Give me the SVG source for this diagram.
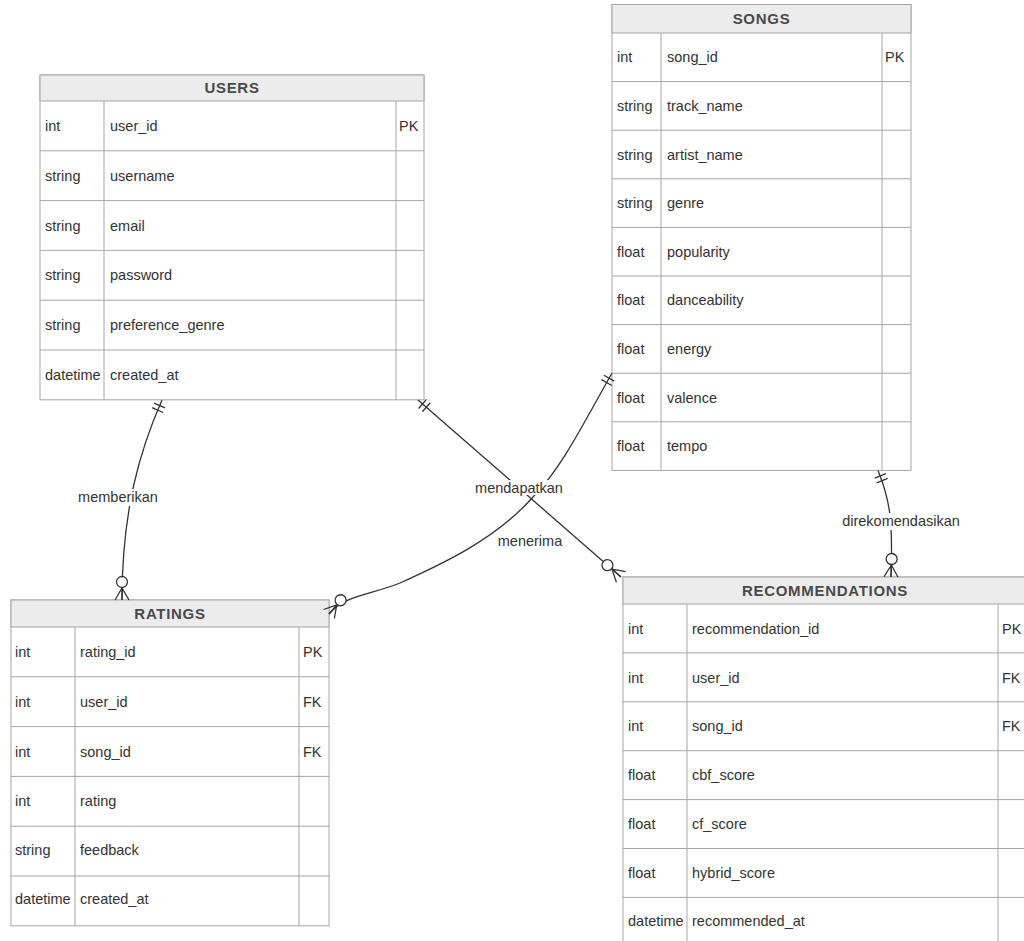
<svg xmlns="http://www.w3.org/2000/svg" width="1024" height="941" viewBox="0 0 1024 941">
<style>
.box{fill:#ffffff;stroke:#a6a6a6;stroke-width:1}
.hdr{fill:#ececec;stroke:#a6a6a6;stroke-width:1}
.ln{stroke:#a6a6a6;stroke-width:1;fill:none}
.ht{font-family:"Liberation Sans",Arial,sans-serif;font-size:15px;font-weight:bold;fill:#4a4a4a;text-anchor:middle;letter-spacing:0.7px}
.t{font-family:"Liberation Sans",Arial,sans-serif;font-size:14.5px;fill:#333}
.lbl{font-family:"Liberation Sans",Arial,sans-serif;font-size:14.5px;fill:#333;text-anchor:middle}
.edge{fill:none;stroke:#333;stroke-width:1.3;marker-start:url(#one);marker-end:url(#many)}
.bg{fill:#ffffff}
</style>
<defs>
<marker id="one" markerUnits="userSpaceOnUse" viewBox="-24 -10 26 20" refX="0" refY="0" markerWidth="26" markerHeight="20" orient="auto-start-reverse" overflow="visible">
<path d="M-6,-6 V6 M-11,-6 V6" stroke="#333" stroke-width="1.3" fill="none"/>
</marker>
<marker id="many" markerUnits="userSpaceOnUse" viewBox="-26 -10 28 20" refX="0" refY="0" markerWidth="28" markerHeight="20" orient="auto" overflow="visible">
<path d="M-12,0 L0,-7 M-12,0 L0,0 M-12,0 L0,7" stroke="#333" stroke-width="1.3" fill="none"/>
<circle cx="-18" cy="0" r="5.5" fill="#fff" stroke="#333" stroke-width="1.3"/>
</marker>
</defs>

<g id="users">
<rect class="box" x="40" y="75" width="384" height="324.8"/>
<rect class="hdr" x="40" y="75" width="384" height="26"/>
<path class="ln" d="M104,101 V399.8 M396,101 V399.8 M40,150.8 H424 M40,200.6 H424 M40,250.4 H424 M40,300.2 H424 M40,350 H424"/>
<text class="ht" x="232" y="93">USERS</text>
<text class="t" x="45" y="131">int</text><text class="t" x="110" y="131">user_id</text><text class="t" x="399" y="131">PK</text>
<text class="t" x="45" y="181">string</text><text class="t" x="110" y="181">username</text>
<text class="t" x="45" y="231">string</text><text class="t" x="110" y="231">email</text>
<text class="t" x="45" y="280">string</text><text class="t" x="110" y="280">password</text>
<text class="t" x="45" y="330">string</text><text class="t" x="110" y="330">preference_genre</text>
<text class="t" x="45" y="380">datetime</text><text class="t" x="110" y="380">created_at</text>
</g>

<g id="songs">
<rect class="box" x="612" y="4.5" width="299" height="465.9"/>
<rect class="hdr" x="612" y="4.5" width="299" height="28.5"/>
<path class="ln" d="M661,33 V470.4 M882,33 V470.4 M612,81.6 H911 M612,130.2 H911 M612,178.8 H911 M612,227.4 H911 M612,276 H911 M612,324.6 H911 M612,373.2 H911 M612,421.8 H911"/>
<text class="ht" x="761.5" y="24">SONGS</text>
<text class="t" x="617" y="62">int</text><text class="t" x="667" y="62">song_id</text><text class="t" x="885" y="62">PK</text>
<text class="t" x="617" y="111">string</text><text class="t" x="667" y="111">track_name</text>
<text class="t" x="617" y="160">string</text><text class="t" x="667" y="160">artist_name</text>
<text class="t" x="617" y="208">string</text><text class="t" x="667" y="208">genre</text>
<text class="t" x="617" y="257">float</text><text class="t" x="667" y="257">popularity</text>
<text class="t" x="617" y="305">float</text><text class="t" x="667" y="305">danceability</text>
<text class="t" x="617" y="354">float</text><text class="t" x="667" y="354">energy</text>
<text class="t" x="617" y="403">float</text><text class="t" x="667" y="403">valence</text>
<text class="t" x="617" y="451">float</text><text class="t" x="667" y="451">tempo</text>
</g>

<g id="ratings">
<rect class="box" x="11" y="600" width="318" height="325.8"/>
<rect class="hdr" x="11" y="600" width="318" height="27"/>
<path class="ln" d="M75,627 V925.8 M299,627 V925.8 M11,676.8 H329 M11,726.6 H329 M11,776.4 H329 M11,826.2 H329 M11,876 H329"/>
<text class="ht" x="170" y="619">RATINGS</text>
<text class="t" x="15" y="657">int</text><text class="t" x="80" y="657">rating_id</text><text class="t" x="303" y="657">PK</text>
<text class="t" x="15" y="707">int</text><text class="t" x="80" y="707">user_id</text><text class="t" x="303" y="707">FK</text>
<text class="t" x="15" y="757">int</text><text class="t" x="80" y="757">song_id</text><text class="t" x="303" y="757">FK</text>
<text class="t" x="15" y="806">int</text><text class="t" x="80" y="806">rating</text>
<text class="t" x="15" y="855">string</text><text class="t" x="80" y="855">feedback</text>
<text class="t" x="15" y="904">datetime</text><text class="t" x="80" y="904">created_at</text>
</g>

<g id="recommendations">
<rect class="box" x="623" y="577" width="404" height="370"/>
<rect class="hdr" x="623" y="577" width="404" height="27"/>
<path class="ln" d="M687,604 V947 M998,604 V947 M623,652.9 H1027 M623,701.8 H1027 M623,750.7 H1027 M623,799.6 H1027 M623,848.5 H1027 M623,897.4 H1027"/>
<text class="ht" x="825" y="596">RECOMMENDATIONS</text>
<text class="t" x="628" y="634">int</text><text class="t" x="692" y="634">recommendation_id</text><text class="t" x="1002" y="634">PK</text>
<text class="t" x="628" y="683">int</text><text class="t" x="692" y="683">user_id</text><text class="t" x="1002" y="683">FK</text>
<text class="t" x="628" y="731">int</text><text class="t" x="692" y="731">song_id</text><text class="t" x="1002" y="731">FK</text>
<text class="t" x="628" y="780">float</text><text class="t" x="692" y="780">cbf_score</text>
<text class="t" x="628" y="829">float</text><text class="t" x="692" y="829">cf_score</text>
<text class="t" x="628" y="878">float</text><text class="t" x="692" y="878">hybrid_score</text>
<text class="t" x="628" y="926">datetime</text><text class="t" x="692" y="926">recommended_at</text>
</g>

<g id="connectors">
<path class="edge" d="M162,400 C140,450 122,510 122,600"/>
<path class="edge" d="M418,400 L621,577"/>
<path class="edge" d="M612,373 C580,430 560,470 533,497 C495,540 440,565 400,583 C370,595 345,595 329,614"/>
<path class="edge" d="M878,470.4 C890,500 893,520 891,577"/>
</g>

<g id="labels">
<rect class="bg" x="76" y="489" width="84" height="17"/>
<text class="lbl" x="118" y="502">memberikan</text>
<rect class="bg" x="473" y="480" width="92" height="15"/>
<text class="lbl" x="519" y="493">mendapatkan</text>
<text class="lbl" x="530" y="546">menerima</text>
<rect class="bg" x="836" y="513" width="130" height="17"/>
<text class="lbl" x="901" y="526">direkomendasikan</text>
</g>
</svg>
